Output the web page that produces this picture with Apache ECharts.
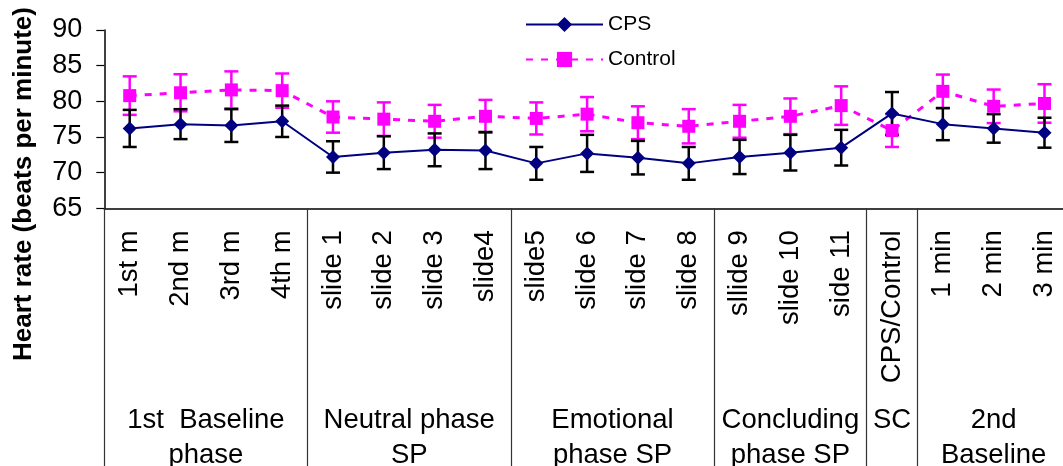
<!DOCTYPE html>
<html>
<head>
<meta charset="utf-8">
<script src="https://cdn.jsdelivr.net/npm/echarts@6/dist/echarts.min.js"></script>
<style>
  html, body { margin: 0; padding: 0; background: #fff; }
  #chart { width: 1063px; height: 466px; }
</style>
</head>
<body>
<div id="chart"></div>
<script>
// categories along the x axis
const categories = ['1st m', '2nd m', '3rd m', '4th m', 'slide 1', 'slide 2', 'slide 3', 'slide4',
  'slide5', 'slide 6', 'slide 7', 'slide 8', 'sllide 9', 'slide 10', 'side 11', 'CPS/Control',
  '1 min', '2 min', '3 min']

// phase groups under the categories
const groupNames = ['1st  Baseline\nphase', 'Neutral phase\nSP', 'Emotional\nphase SP',
  'Concluding\nphase SP', 'SC', '2nd\nBaseline']
const groupSizes = [4, 4, 4, 3, 1, 3]

// mean heart rate and error (beats per minute)
const cps = [76.2, 76.8, 76.6, 77.2, 72.2, 72.8, 73.2, 73.1, 71.3, 72.7, 72.1, 71.3, 72.2, 72.8, 73.5, 78.3, 76.8, 76.2, 75.6]
const cpsErr = [2.6, 2.1, 2.3, 2.2, 2.2, 2.3, 2.3, 2.6, 2.3, 2.6, 2.35, 2.3, 2.4, 2.5, 2.5, 3.0, 2.25, 2.0, 2.1]
const control = [80.8, 81.2, 81.6, 81.5, 77.8, 77.5, 77.2, 77.9, 77.6, 78.2, 77.0, 76.5, 77.2, 77.9, 79.4, 75.9, 81.4, 79.3, 79.7]
const controlErr = [2.7, 2.6, 2.6, 2.4, 2.2, 2.35, 2.3, 2.3, 2.25, 2.4, 2.3, 2.4, 2.3, 2.5, 2.7, 2.3, 2.35, 2.35, 2.7]

const yTicks = [65, 70, 75, 80, 85, 90]

// group boundaries and centres (in category units)
const groupEdges = [0]
const groupCenters = []
groupSizes.forEach((n) => {
  const start = groupEdges[groupEdges.length - 1]
  groupCenters.push(start + n / 2)
  groupEdges.push(start + n)
})

const FONT = "'Liberation Sans', Arial, sans-serif"

const errData = (vals, errs) => vals.map((v, i) => [i, v - errs[i], v + errs[i]])

const errorBars = (name, color, data) => ({
  name: name + ' err',
  type: 'custom',
  xAxisIndex: 0,
  yAxisIndex: 0,
  silent: true,
  data: data,
  renderItem: (params, api) => {
    const lo = api.coord([api.value(0), api.value(1)])
    const hi = api.coord([api.value(0), api.value(2)])
    const half = 7
    const style = { stroke: color, lineWidth: 2.5 }
    return {
      type: 'group',
      children: [
        { type: 'line', shape: { x1: lo[0], y1: lo[1], x2: hi[0], y2: hi[1] }, style },
        { type: 'line', shape: { x1: lo[0] - half, y1: lo[1], x2: lo[0] + half, y2: lo[1] }, style },
        { type: 'line', shape: { x1: hi[0] - half, y1: hi[1], x2: hi[0] + half, y2: hi[1] }, style }
      ]
    }
  }
})

const chart = echarts.init(document.getElementById('chart'), null, { renderer: 'canvas' })

chart.setOption({
  animation: false,
  textStyle: { fontFamily: FONT },
  grid: {
    left: 104.3,
    top: 30,
    width: 965.6,
    bottom: 257.7,
    containLabel: false,
    outerBoundsMode: 'none'
  },
  legend: {
    orient: 'vertical',
    left: 520,
    top: 8,
    itemWidth: 77,
    itemHeight: 19,
    itemGap: 12,
    data: ['CPS', 'Control'],
    textStyle: { fontSize: 21, lineHeight: 23, color: '#000', fontFamily: FONT }
  },
  graphic: [{
    type: 'text',
    x: 24,
    y: 184,
    rotation: Math.PI / 2,
    style: {
      text: 'Heart rate (beats per minute)',
      font: 'bold 26px ' + FONT,
      fill: '#000',
      align: 'center',
      verticalAlign: 'middle'
    }
  }],
  xAxis: [
    {
      type: 'category',
      data: categories,
      boundaryGap: true,
      axisLine: { lineStyle: { color: '#000', width: 1.5 } },
      axisTick: { interval: 0, length: 172, lineStyle: { color: '#333', width: 1 } },
      axisLabel: {
        interval: 0,
        rotate: 90,
        margin: 22,
        fontSize: 27.5,
        color: '#000',
        fontFamily: FONT
      }
    },
    {
      type: 'value',
      position: 'bottom',
      min: 0,
      max: categories.length,
      splitLine: { show: false },
      axisLine: { show: false },
      axisTick: { customValues: groupEdges, length: 258, lineStyle: { color: '#333', width: 1.2 } },
      axisLabel: {
        customValues: groupCenters,
        margin: 195,
        fontSize: 27.5,
        lineHeight: 35,
        color: '#000',
        fontFamily: FONT,
        formatter: (v) => groupNames[groupCenters.indexOf(v)] || ''
      }
    }
  ],
  yAxis: {
    type: 'value',
    min: yTicks[0],
    max: yTicks[yTicks.length - 1],
    interval: 5,
    splitLine: { show: false },
    axisLine: { show: true, lineStyle: { color: '#000', width: 1.5 } },
    axisTick: { show: true, length: 8, lineStyle: { color: '#000', width: 1.2 } },
    axisLabel: { fontSize: 27, margin: 22, color: '#000', fontFamily: FONT }
  },
  series: [
    errorBars('Control', '#ff00ff', errData(control, controlErr)),
    {
      name: 'Control',
      type: 'line',
      data: control,
      symbol: 'rect',
      symbolSize: 13,
      itemStyle: { color: '#ff00ff' },
      lineStyle: { color: '#ff00ff', width: 3, type: [7, 8] },
      z: 3
    },
    errorBars('CPS', '#000000', errData(cps, cpsErr)),
    {
      name: 'CPS',
      type: 'line',
      data: cps,
      symbol: 'diamond',
      symbolSize: 14,
      itemStyle: { color: '#000080' },
      lineStyle: { color: '#000080', width: 2 },
      z: 4
    }
  ]
})
</script>
</body>
</html>
